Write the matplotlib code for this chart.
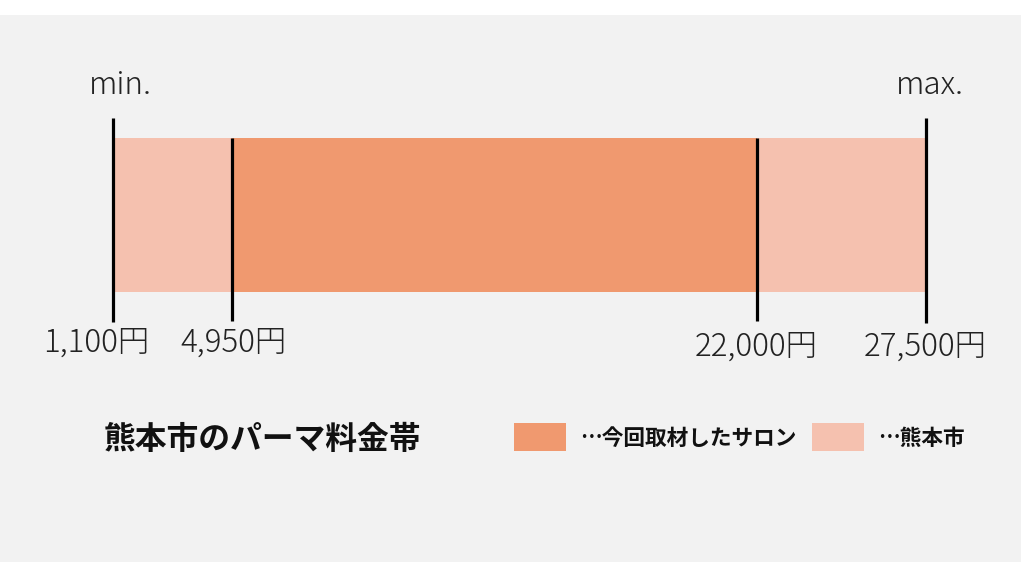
import matplotlib
matplotlib.use("Agg")
import matplotlib.pyplot as plt
import matplotlib.patches as patches

plt.rcParams['font.family'] = ['Noto Sans CJK JP', 'DejaVu Sans']

# data
city_range = [1100, 27500]      # 熊本市 min / max
salon_range = [4950, 22000]     # 今回取材したサロン
tick_values = [1100, 4950, 22000, 27500]
tick_labels = ["1,100円", "4,950円", "22,000円", "27,500円"]
title = "熊本市のパーマ料金帯"
legend_labels = ["…今回取材したサロン", "…熊本市"]

dark = "#F0996F"
light = "#F5C1AF"
bg = "#F2F2F2"

fig = plt.figure(figsize=(10.24, 5.62), dpi=100)
fig.patch.set_facecolor("white")
fig.add_artist(patches.Rectangle((0, 0), 1021 / 1024, 547 / 562, transform=fig.transFigure,
                                 facecolor=bg, edgecolor="none", zorder=0))

ax = fig.add_axes([0, 0, 1, 1])
ax.set_facecolor("none")
# x in yen, y in pixel rows (top = 0)
span = city_range[1] - city_range[0]
scale = span / 813.0
ax.set_xlim(city_range[0] - 113 * scale, city_range[0] + (1024 - 113) * scale)
ax.set_ylim(562, 0)
ax.axis("off")

# bars
ax.barh(215, city_range[1] - city_range[0], left=city_range[0], height=154, color=light, zorder=1)
ax.barh(215, salon_range[1] - salon_range[0], left=salon_range[0], height=154, color=dark, zorder=2)

# vertical markers
line_tops = [118, 138, 138, 118]
line_bottoms = [322, 321, 321, 323]
for v, t, b in zip(tick_values, line_tops, line_bottoms):
    ax.vlines(v, t, b, color="black", lw=2.3, zorder=3)

# tick labels
offsets = [-17, 2, 0, -1]
ys = [343, 343, 347, 347]
for v, lab, dx, y in zip(tick_values, tick_labels, offsets, ys):
    ax.annotate(lab, (v, y), xytext=(dx * 0.72, 0), textcoords="offset points",
                ha="center", va="center", fontsize=22.6, fontweight="light", color="#222222")

ax.annotate("min.", (city_range[0], 85), xytext=(7 * 0.72, 0), textcoords="offset points",
            ha="center", va="center", fontsize=22.6, fontweight="light", color="#222222")
ax.annotate("max.", (city_range[1], 85), xytext=(4 * 0.72, 0), textcoords="offset points",
            ha="center", va="center", fontsize=22.6, fontweight="light", color="#222222")

# title
fig.text(104 / 1024, 1 - 440 / 562, title, ha="left", va="center",
         fontsize=22.9, fontweight="bold", color="#111111")

# legend
for (x0, col, lab) in zip([514, 812], [dark, light], legend_labels):
    fig.add_artist(patches.Rectangle((x0 / 1024, 1 - 451 / 562), 52 / 1024, 28 / 562,
                                     transform=fig.transFigure, facecolor=col, edgecolor="none"))
    fig.text((x0 + 66) / 1024, 1 - 438 / 562, lab, ha="left", va="center",
             fontsize=15.6, fontweight="bold", color="#111111")

fig.savefig("out.png", dpi=100, facecolor=fig.get_facecolor())
